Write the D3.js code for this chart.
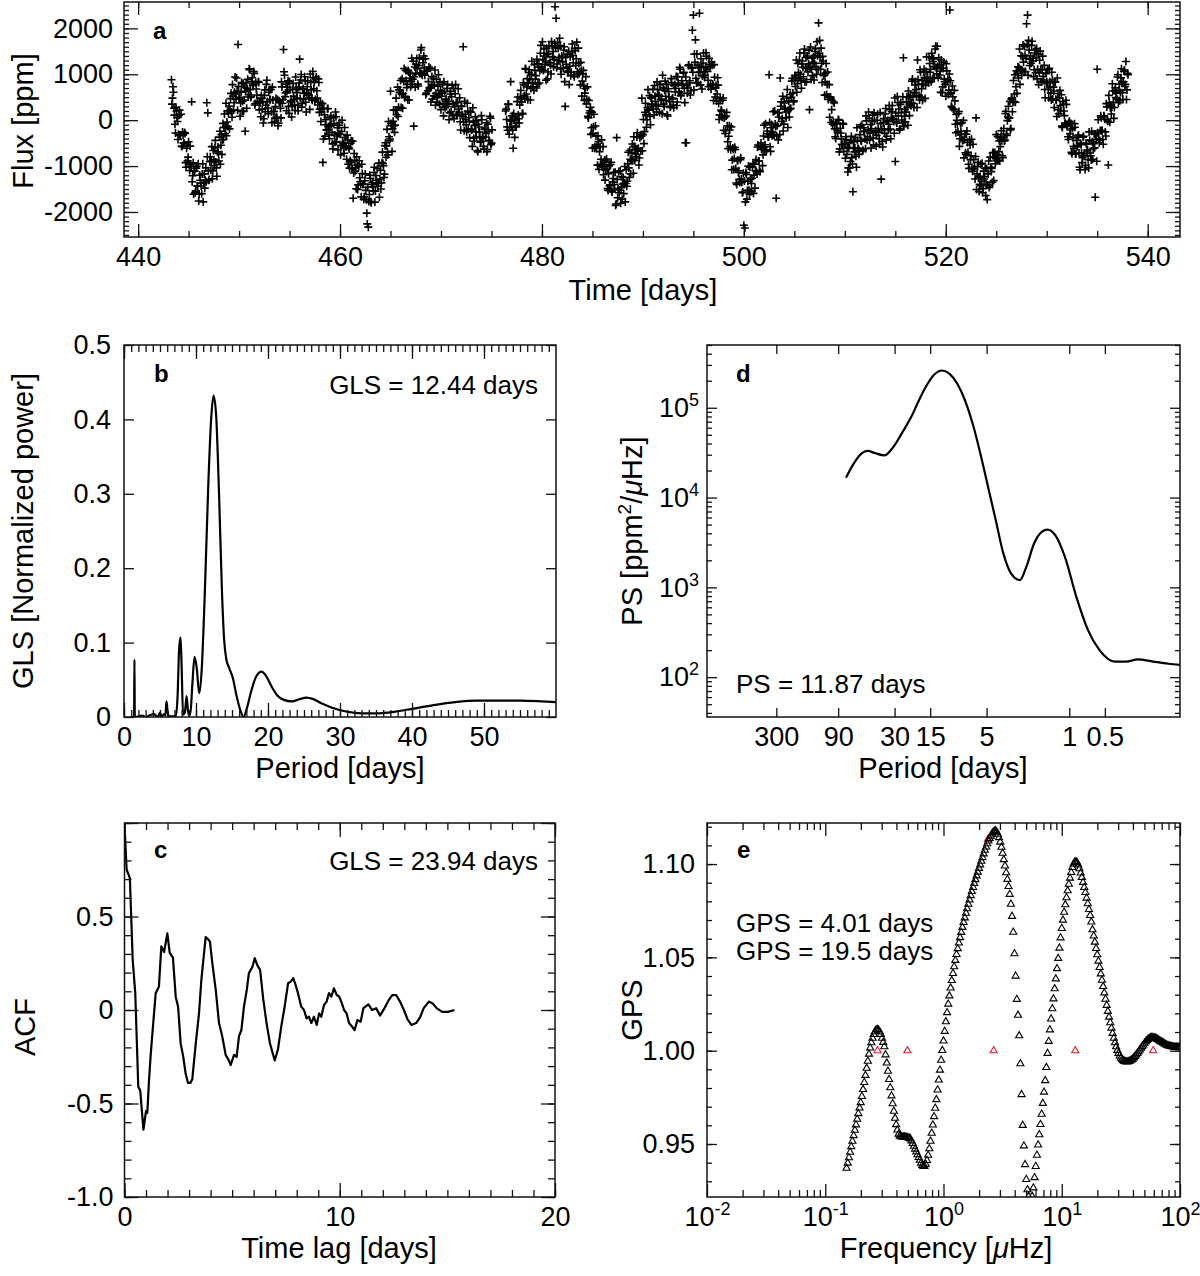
<!DOCTYPE html>
<html>
<head>
<meta charset="utf-8">
<title>Rotation period diagnostics</title>
<script src="https://cdn.jsdelivr.net/npm/d3@7"></script>
<style>
  body { margin: 0; background: #fff; }
  svg { display: block; }
</style>
</head>
<body>
<svg id="fig" width="1200" height="1276"></svg>
<script>
// ---- panel a: light curve, two segments; samples A on the cadence, B half a cadence later ----
var lcStart = [443.3, 476.4];
var lcStartB = [443.35, 476.45];
var lcCadence = 0.1; // days
var lcFlux1 = [
  880,480,610,110,-280,200,-30,-305,220,-330,
  -570,-260,-500,-270,-925,-610,-885,-470,-1095,-960,
  400,-1210,-1610,-1110,-1545,-1005,-1440,-1760,-1200,-1375,
  -1600,-950,-1370,-1480,-1040,380,160,-1310,-905,-1090,
  -575,-1100,-860,-600,-910,-1220,-585,-890,-240,-545,
  -745,-70,-155,-295,370,-40,-140,310,210,585,
  65,520,380,940,460,635,1650,460,85,610,
  190,800,440,-240,810,690,505,1120,665,520,
  925,780,1020,365,680,410,840,225,375,540,
  240,-60,540,185,780,405,140,665,450,185,
  720,190,-35,295,70,450,-65,395,260,835,
  370,1540,980,595,205,720,300,835,400,70,
  670,525,330,940,480,325,720,1330,875,285,
  670,460,945,390,600,860,545,235,820,465,
  1060,685,420,900,640,330,820,240,-30,250,
  -920,260,-350,10,-220,255,-315,-120,90,-265,
  -625,-80,-480,75,-345,-650,-110,-305,-555,0,
  -515,-720,-375,-580,-325,-960,-625,-880,-450,-1060,
  -1700,-725,-1110,-1495,-980,-1410,-885,-1335,-1670,-1160,
  -1390,-1670,-1170,-1735,-2260,-2330,-1620,-1265,-1800,-1360,
  -1540,-1025,-1545,-1310,-1050,-1365,-1680,-1090,-1365,-695,
  -990,-1175,-490,-560,-695,-30,-450,630,-120,-185,
  220,-265,220,120,720,280,600,865,565,260,
  845,490,1085,710,445,1050,915,730,1350,895,
  -130,1160,1020,1345,785,1190,1010,1530,1010,1250,
  1400,980,560,1070,640,1160,710,395,950,765,
  530,1095,585,390,740,555,835,230,590,365,
  835,270,460,690,350,10,570,190,760,360,
  35,575,380,130,685,170,-35,310,115,1600,
  -230,130,-100,370,-200,-20,175,-195,-570,-45,
  -460,75,-360,-660,-90,-260,-480,100,-390,-570,
  -200,-365,-55,-640,-250,-455,45,-500
];
var lcFlux1b = [
  350,730,260,-90,280,60,-420,105,-320,130,
  -570,-320,-500,-290,-1025,-540,-805,-970,-565,-1010,
  -1340,-930,-1110,-1580,-1045,-1435,-950,-1610,-1310,-1435,
  -1170,-1780,-1170,-1310,-1340,-795,-1100,-1290,-795,-890,
  -1275,-660,-990,-440,-1040,-690,-725,-370,-960,-315,
  -425,-420,135,-165,-340,200,150,-190,470,185,
  775,220,610,570,920,215,735,500,375,820,
  410,200,710,630,260,890,555,1100,495,840,
  755,1060,330,815,550,400,820,385,75,480,
  400,30,660,325,870,265,610,445,670,-55,
  440,190,45,475,50,-120,425,385,50,725,
  450,1055,510,785,625,860,150,665,430,300,
  800,445,210,700,600,205,810,470,995,365,
  690,580,855,180,730,560,495,1005,660,435,
  930,835,450,940,480,900,170,390,180,360,
  -410,120,-100,-210,250,-135,-405,50,-90,-515,
  55,-320,180,-465,-165,-290,-50,-755,-245,-480,
  -605,-160,-565,-850,-425,-590,-1045,-500,-920,-460,
  -1150,-875,-1030,-795,-1510,-1010,-1255,-1395,-960,-1400,
  -1720,-1320,-1530,-2025,-1460,-1770,-1200,-1775,-1400,-1450,
  -1140,-1785,-1205,-1380,-1440,-935,-1280,-1500,-925,-945,
  -1250,-555,-810,-200,-755,-360,-410,-70,-680,-25,
  -120,-105,480,220,80,660,650,275,905,580,
  1125,520,865,780,1085,440,1015,840,780,1285,
  945,720,1220,1125,745,1360,1030,1580,980,1330,
  1140,1340,590,1090,840,700,1130,735,460,905,
  760,325,885,500,990,345,645,520,780,95,
  625,410,300,780,410,160,630,510,100,690,
  295,775,110,390,245,490,-215,300,75,-45,
  410,20,-250,200,60,-380,175,-215,270,-395,
  -110,-255,-10,-690,-150,-360,-460,10,-370,-630,
  -170,-285,-685,-90,-440,85,-535,-210
];
var lcFlux2 = [
  200,15,-220,345,-160,840,-15,-220,145,-375,
  70,-65,505,30,330,650,400,135,770,465,
  1110,725,445,1040,890,690,1285,815,650,1085,
  970,1325,790,1230,1080,1630,1110,1320,1550,1210,
  870,1430,1050,1620,1255,1005,1620,1495,1325,2470,
  2220,1225,1570,1365,1625,1000,1360,1130,1600,300,
  1220,1430,1070,775,1380,1045,1660,1250,945,1515,
  1340,1055,1570,1015,770,1085,850,1085,430,690,
  355,725,50,155,280,-165,-605,-150,-610,-125,
  -610,-980,-465,-685,-960,-430,-965,-1190,-865,-1090,
  -845,-1490,-1165,-1430,-965,-1535,-1350,-1140,-1495,-1855,
  -380,-1690,-1120,-1520,-1810,-1230,-1390,-1600,-1010,-1380,
  -1440,-950,-1040,-660,-1170,-710,-885,-360,-875,-630,
  -365,-670,-975,-380,-670,480,-315,-510,170,115,
  10,665,215,80,490,350,675,115,520,330,
  835,305,530,780,460,140,700,300,850,430,
  120,685,505,280,905,465,330,750,615,950,
  395,810,610,1110,570,790,1025,695,-490,-490,
  590,1185,810,550,1155,1960,2290,1440,1750,810,
  1200,1040,2330,770,1160,965,1465,930,1150,1390,
  1060,730,1220,765,1265,790,430,935,705,420,
  925,365,110,430,195,435,-220,70,-230,170,
  -470,-350,-215,-645,-1080,-605,-1075,-590,-1050,-1400,
  -880,-1100,-1360,-820,-1350,-1565,-2290,-2350,-1140,-1720,
  -1330,-1525,-1025,-1560,-1265,-945,-1200,-1480,-855,-1175,
  -540,-890,-1125,-495,-600,-755,-110,-535,-650,-235,
  -365,990,-580,-165,-340,185,-330,-85,-1700,-120,
  -430,155,920,400,30,-235,375,240,55,670,
  215,70,560,500,910,400,865,735,1310,795,
  1040,1305,1000,695,1290,945,1550,1135,835,1400,
  1230,230,1595,1110,970,1375,1235,1560,1000,1405,
  2120,1740,1110,1240,1390,970,545,1025,560,1050,
  505,65,500,230,-90,395,-190,-400,-55,-265,
  0,-625,-280,-525,-70,-680,-530,-360,-745,-1130,
  -615,-1040,-440,-815,-1560,-470,-600,-785,-165,-620,
  -745,-315,-440,-100,-655,-240,-410,95,-435,-210,
  40,-285,-605,-30,-390,160,-255,-565,0,-180,
  -405,165,-1285,-465,-55,-190,135,-430,-25,-210,
  320,-195,55,320,20,-285,-900,-30,515,95,
  -220,345,165,-60,1360,85,-35,400,280,635,
  100,535,380,895,365,600,845,525,1310,780,
  440,1045,685,430,1050,925,755,1380,940,815,
  1235,1110,1455,910,1335,1170,1610,1010,1170,1360,
  985,610,1130,725,1265,840,520,1075,890,655,
  2400,595,275,510,230,420,-275,0,-255,190,
  -405,-240,-55,-435,-820,-300,-745,-235,-700,-1050,
  -540,-775,-1055,-525,-1055,-1280,50,-1170,-915,-1555,
  -1220,-1430,-940,-1490,-1280,-1050,-1390,-1730,-1170,-1465,
  -805,-1120,-1350,-705,-805,-950,-315,-750,-875,-450,
  -575,-230,-775,-350,-455,145,-300,-10,305,50,
  -210,460,185,865,570,390,1075,1025,920,1550,
  1105,975,1390,1265,1605,1060,2100,2290,1740,1190,
  1400,1630,1290,950,1465,1035,1560,1110,775,1305,
  1100,840,1395,875,670,1025,830,1105,490,835,
  590,1045,460,635,830,455,80,580,140,650,
  205,-130,405,200,-85,435,-120,-360,-55,-295,
  -70,-730,-380,-615,-155,-730,-550,-345,-715,-1080,
  -535,-925,-370,-778,-1075,-503,-670,-860,-255,-715,
  -870,-470,-620,-300,-1680,-415,1110,10,-490,-225,
  55,-230,-525,80,-255,360,5,-975,385,270,
  135,795,390,275,705,590,940,380,785,605,
  1120,600,835,1095,780,450,1020
];
var lcFlux2b = [
  240,-145,350,-305,-10,-155,95,-610,5,-125,
  -150,405,115,-60,500,470,150,815,530,1125,
  570,905,805,1100,440,1000,805,725,1210,895,
  700,1225,1160,810,1460,1160,1710,1080,1400,1290,
  1570,900,1450,1250,1195,1715,1380,1165,1675,1590,
  1145,1695,1300,1785,1115,1400,1270,1530,840,1370,
  1150,1040,1500,1175,970,1485,1410,990,1565,1195,
  1700,995,1240,1055,1260,525,1010,745,590,950,
  455,85,430,205,-310,175,-285,130,-580,-345,
  -540,-340,-1075,-585,-850,-1000,-575,-1000,-1305,-890,
  -1065,-1530,-995,-1410,-915,-1565,-1270,-1400,-1135,-1825,
  -1290,-1490,-1580,-1100,-1470,-1720,-1250,-1370,-1780,-1080,
  -1330,-700,-1250,-850,-880,-520,-1155,-570,-735,-790,
  -275,-610,-825,-320,-350,-665,15,-250,370,-155,
  270,225,535,-100,480,310,245,755,410,180,
  665,565,170,780,440,980,350,650,520,780,
  90,625,405,300,815,485,270,780,695,320,
  945,620,1150,530,860,758,1045,383,940,765,
  700,1205,860,640,1135,1045,660,1260,910,1440,
  820,1150,1050,1340,680,1245,1055,980,1470,1110,
  870,1350,1160,675,1195,760,1210,505,755,570,
  765,15,480,220,65,485,50,-290,90,-120,
  -620,-120,-575,-145,-870,-635,-835,-640,-1370,-880,
  -1140,-1290,-860,-1280,-1580,-1155,-1325,-1780,-1180,-1530,
  -1000,-1615,-1285,-1380,-1015,-1595,-960,-1100,-1125,-585,
  -890,-1090,-565,-635,-990,-345,-650,-75,-650,-295,
  -365,-50,-680,-95,-260,-315,200,-135,-345,160,
  70,-315,305,-30,520,-85,265,180,485,-160,
  415,240,260,850,590,420,975,935,610,1235,
  910,1465,870,1225,1150,1465,830,1365,1155,1050,
  1520,1145,885,1350,1260,875,1495,1160,1710,1105,
  1455,1370,1570,820,1290,1010,835,1235,780,450,
  775,505,-50,430,-40,375,-360,-80,-225,15,
  -690,-175,-410,-535,-90,-520,-830,-420,-585,-1040,
  -495,-900,-350,-955,-605,-690,-380,-1025,-445,-620,
  -665,-135,-460,-670,-165,-250,-620,-15,-355,180,
  -430,-95,-185,110,-540,-10,-225,-335,130,-260,
  -525,-75,-210,-585,35,-290,255,-350,-5,-90,
  230,-405,185,20,-30,485,155,-60,385,245,
  -190,385,5,510,-140,235,175,510,-110,495,
  350,315,850,505,275,770,665,275,885,540,
  1100,505,865,790,1110,475,1065,900,850,1375,
  1045,840,1355,1280,915,1550,1140,1610,930,1210,
  1065,1310,600,1125,895,780,1230,835,560,1005,
  860,305,745,240,650,-90,125,-90,145,-570,
  -65,-310,-445,-5,-420,-710,-305,-485,-960,-430,
  -860,-415,-1115,-855,-1015,-790,-1510,-1010,-1255,-1395,
  -960,-1330,-1580,-1110,-1230,-1640,-1050,-1410,-890,-1435,
  -1025,-1050,-710,-1315,-705,-840,-885,-360,-685,-890,
  -375,-450,-815,-180,-435,195,-330,70,45,410,
  -180,480,385,405,990,730,585,1165,1150,780,
  1405,1085,1640,1055,1415,1350,1650,980,1530,1330,
  1240,1720,1350,1100,1525,1355,900,1440,1035,1505,
  830,1100,955,1195,490,1015,790,675,1130,725,
  440,875,720,275,830,435,920,230,490,320,
  555,-160,345,100,-65,345,-100,-420,-25,-215,
  -700,-180,-570,-75,-735,-440,-580,-325,-1025,-500,
  -715,-815,-350,-728,-985,-523,-650,-1040,-435,-775,
  -240,-850,-510,-600,-300,-895,-275,-400,-440,95,
  -225,-420,95,20,-345,290,-25,540,-45,320,
  285,635,40,645,495,460,990,650,425,925,
  830,450,1065,735,1280,660,990
];
var timeTicks = [440, 460, 480, 500, 520, 540];
var fluxTicks = [-2000, -1000, 0, 1000, 2000];

// ---- panel b: GLS periodogram ----
var glsPeriod = [1.07,1.35,1.40,1.45,1.50,1.6,2.5,3.0,3.5,4.2,4.5,4.7,5.0,5.2,5.6,5.75,5.9,6.05,6.2,7.2,
  7.45,7.65,7.85,8.0,8.2,8.45,8.7,8.95,9.2,9.5,9.8,10.1,10.45,10.8,11.2,11.7,12.1,12.44,12.8,13.2,
  13.6,13.9,14.2,14.6,15.1,15.6,16.1,16.6,17.1,17.7,18.4,19.1,19.8,20.5,21.3,22.2,23.3,24.4,25.3,26.3,
  27.5,29.0,31.0,33.0,35.0,37.5,40.0,43.0,46.0,49.0,52.0,55.0,58.0,60.0];
var glsPower = [0,0,0,0.077,0,0,0.002,0,0.002,0.004,0.001,0,0.006,0.001,0.004,0.002,0.021,0.008,0.001,0.001,
  0.03,0.09,0.107,0.07,0.003,0.006,0.028,0.003,0.003,0.045,0.081,0.066,0.032,0.065,0.16,0.31,0.40,0.432,0.405,0.30,
  0.17,0.105,0.078,0.066,0.053,0.030,0.011,0,0.013,0.036,0.055,0.061,0.054,0.041,0.029,0.023,0.021,0.024,0.026,0.024,
  0.018,0.012,0.007,0.005,0.005,0.007,0.011,0.016,0.020,0.022,0.022,0.022,0.021,0.020];
var periodTicks = [0, 10, 20, 30, 40, 50];
var glsTicks = [0, 0.1, 0.2, 0.3, 0.4, 0.5];

// ---- panel c: autocorrelation ----
var acfLag = [0,0.1,0.25,0.38,0.5,0.64,0.73,0.88,1.0,1.06,1.14,1.21,1.3,1.45,1.6,1.71,1.84,1.99,2.1,2.25,
  2.38,2.49,2.61,2.73,2.84,2.95,3.06,3.15,3.31,3.46,3.57,3.77,3.87,3.97,4.08,4.24,4.39,4.54,4.7,4.85,
  4.93,5.09,5.21,5.32,5.43,5.55,5.68,5.78,5.94,6.05,6.17,6.3,6.45,6.6,6.76,6.98,7.13,7.28,7.44,7.6,
  7.72,7.84,7.95,8.06,8.21,8.34,8.46,8.57,8.68,8.8,8.93,9.04,9.14,9.27,9.39,9.5,9.61,9.73,9.86,9.97,
  10.07,10.2,10.32,10.43,10.58,10.69,10.82,10.97,11.1,11.33,11.5,11.69,11.87,12.08,12.26,12.44,12.62,12.8,12.98,13.15,
  13.33,13.55,13.73,13.9,14.14,14.32,14.5,14.76,15.03,15.33];
var acfValue = [0.99,0.75,0.705,0.27,0.09,-0.41,-0.43,-0.64,-0.54,-0.55,-0.375,-0.25,-0.12,0.09,0.125,0.34,0.31,0.41,0.305,0.28,
  0.07,0.018,-0.18,-0.25,-0.34,-0.39,-0.39,-0.37,-0.18,-0.02,0.16,0.39,0.38,0.365,0.25,0.107,-0.07,-0.14,-0.24,-0.27,
  -0.295,-0.24,-0.25,-0.14,-0.107,0.018,0.107,0.197,0.23,0.277,0.24,0.214,0.054,-0.07,-0.18,-0.27,-0.21,-0.09,0.018,0.143,
  0.152,0.17,0.134,0.09,0.018,0,-0.045,-0.036,-0.07,-0.036,-0.08,-0.018,-0.036,0.027,0.045,0.09,0.072,0.116,0.08,0.072,
  0.045,0,-0.018,-0.07,-0.09,-0.107,-0.054,-0.063,0.01,0.03,0,0.01,-0.03,0.01,0.05,0.08,0.08,0.045,0,-0.05,
  -0.08,-0.07,-0.04,0.01,0.045,0.035,0.01,-0.01,-0.01,0];
var lagTicks = [0, 10, 20];
var acfTicks = [-1, -0.5, 0, 0.5, 1];

// ---- panel d: power spectrum (frequency in microHz) ----
var psFreq = [0.150,0.174,0.202,0.229,0.262,0.316,0.367,0.459,0.533,0.619,0.719,0.836,0.971,1.127,1.309,1.521,
  1.766,2.051,2.382,2.767,3.206,3.724,4.426,5.023,5.834,6.776,7.586,8.810,10.62,13.27,16.63,20.80,28.05,35.08,
  43.95,59.29,79.98,100];
var psPower = [16670,23880,30830,33040,31330,29510,34990,55980,78700,120500,177000,234400,260000,238800,184900,120500,
  66370,30830,13150,5598,2388,1432,1205,1698,3083,4159,4406,3811,2193,787,336,201,149,149,
  158,149,141,137];
var psPeriodTicks = [300, 90, 30, 15, 5, 1, 0.5];
var psPowerTicks = [1e2, 1e3, 1e4, 1e5];

// ---- panel e: gradient power spectrum, log-spaced frequency grid ----
var gpsLogFreqStart = -0.82, gpsLogFreqStep = 0.01;
var gpsValue = [
  0.9370,0.9398,0.9427,0.9456,0.9486,0.9515,0.9545,0.9574,0.9603,0.9633,
  0.9663,0.9693,0.9722,0.9755,0.9792,0.9830,0.9868,0.9906,0.9944,0.9982,
  1.0015,1.0043,1.0067,1.0087,1.0102,1.0111,1.0114,1.0111,1.0102,1.0087,
  1.0067,1.0045,1.0021,0.9978,0.9934,0.9890,0.9846,0.9802,0.9758,0.9716,
  0.9676,0.9638,0.9604,0.9575,0.9553,0.9543,0.9539,0.9538,0.9538,0.9538,
  0.9537,0.9536,0.9534,0.9532,0.9528,0.9517,0.9503,0.9488,0.9473,0.9458,
  0.9443,0.9428,0.9413,0.9398,0.9386,0.9380,0.9382,0.9392,0.9412,0.9440,
  0.9475,0.9515,0.9558,0.9602,0.9647,0.9692,0.9738,0.9790,0.9843,0.9896,
  0.9949,1.0001,1.0052,1.0104,1.0155,1.0204,1.0250,1.0294,1.0336,1.0376,
  1.0414,1.0450,1.0484,1.0516,1.0547,1.0577,1.0606,1.0634,1.0661,1.0687,
  1.0712,1.0737,1.0761,1.0785,1.0808,1.0831,1.0853,1.0875,1.0896,1.0917,
  1.0937,1.0957,1.0977,1.0996,1.1015,1.1035,1.1055,1.1074,1.1092,1.1109,
  1.1124,1.1138,1.1150,1.1161,1.1170,1.1176,1.1178,1.1172,1.1160,1.1142,
  1.1118,1.1090,1.1058,1.1024,1.0990,1.0954,1.0918,1.0880,1.0838,1.0785,
  1.0720,1.0635,1.0520,1.0400,1.0275,1.0190,1.0080,0.9930,0.9765,0.9600,
  0.9490,0.9390,0.9310,0.9255,0.9220,0.9195,0.9180,0.9220,0.9265,0.9320,
  0.9380,0.9440,0.9495,0.9550,0.9605,0.9660,0.9718,0.9778,0.9840,0.9910,
  0.9986,1.0050,1.0112,1.0170,1.0225,1.0278,1.0332,1.0385,1.0440,1.0495,
  1.0550,1.0605,1.0655,1.0700,1.0742,1.0782,1.0820,1.0857,1.0892,1.0925,
  1.0955,1.0982,1.1000,1.1010,1.1013,1.1008,1.0995,1.0975,1.0952,1.0928,
  1.0902,1.0875,1.0848,1.0818,1.0788,1.0757,1.0725,1.0690,1.0648,1.0615,
  1.0582,1.0548,1.0514,1.0480,1.0446,1.0412,1.0378,1.0344,1.0310,1.0276,
  1.0243,1.0211,1.0180,1.0150,1.0121,1.0093,1.0067,1.0043,1.0021,1.0002,
  0.9986,0.9972,0.9961,0.9953,0.9947,0.9943,0.9941,0.9940,0.9941,0.9943,
  0.9946,0.9950,0.9955,0.9962,0.9970,0.9978,0.9986,0.9995,1.0004,1.0013,
  1.0022,1.0031,1.0040,1.0048,1.0055,1.0061,1.0066,1.0069,1.0071,1.0071,
  1.0070,1.0068,1.0065,1.0061,1.0057,1.0053,1.0049,1.0045,1.0041,1.0037,
  1.0033,1.0030,1.0027,1.0025,1.0023,1.0022,1.0021,1.0020,1.0019,1.0019,
  1.0018,1.0018,1.0018
];
var gpsMarkFreq = [0.277, 0.495, 2.38, 2.66, 13.0, 59.3];
var gpsMarkValue = [1.0, 1.0, 1.1134, 1.0, 1.0, 1.0];
var freqTicks = [0.01, 0.1, 1, 10, 100];
var gpsTicks = [0.95, 1.00, 1.05, 1.10];

// ------------------------------------------------------------------
var svg = d3.select("#fig");
var FONT = "'Liberation Sans', Arial, Helvetica, sans-serif";
var INK = "#111";
var DAY_UHZ = 1e6 / 86400; // 1/day in microHz

svg.append("rect").attr("width", 1200).attr("height", 1276).attr("fill", "#fff");

function ticks(g, scale, side, pos, values, len, fmt, pad) {
  var make = {bottom: d3.axisBottom, top: d3.axisTop, left: d3.axisLeft, right: d3.axisRight}[side];
  var ax = make(scale).tickValues(values).tickSizeInner(-len).tickSizeOuter(0)
    .tickPadding(pad == null ? 0 : pad).tickFormat(fmt || function() { return ""; });
  var horiz = side === "bottom" || side === "top";
  var a = g.append("g")
    .attr("transform", horiz ? "translate(0," + pos + ")" : "translate(" + pos + ",0)")
    .call(ax)
    .attr("font-family", FONT).attr("font-size", 27);
  a.select(".domain").remove();
  a.selectAll("line").attr("stroke", INK).attr("stroke-width", 1.3);
  a.selectAll("text").attr("fill", "#000");
  return a;
}

function clip(g, b, id) {
  g.append("clipPath").attr("id", id).append("rect")
    .attr("x", b.x0).attr("y", b.y0).attr("width", b.x1 - b.x0).attr("height", b.y1 - b.y0);
}

function frame(g, b) {
  g.append("rect").attr("x", b.x0).attr("y", b.y0)
    .attr("width", b.x1 - b.x0).attr("height", b.y1 - b.y0)
    .attr("fill", "none").attr("stroke", INK).attr("stroke-width", 1.5);
}

function label(g, x, y, str, size, anchor, bold) {
  return g.append("text").attr("x", x).attr("y", y)
    .attr("font-family", FONT).attr("font-size", size)
    .attr("font-weight", bold ? "bold" : null)
    .attr("text-anchor", anchor || "start").text(str);
}

function ytitle(g, x, y) {
  return g.append("text").attr("transform", "translate(" + x + "," + y + ") rotate(-90)")
    .attr("font-family", FONT).attr("font-size", 29).attr("text-anchor", "middle");
}

function powLabels(axisG) {
  axisG.selectAll(".tick text").each(function(d) {
    var e = Math.round(Math.log10(d));
    var t = d3.select(this).text(null);
    t.append("tspan").text("10");
    t.append("tspan").attr("dy", -11).attr("font-size", 18).text(e);
  });
}

function logMinor(lo, hi) {
  var out = [];
  for (var e = Math.floor(Math.log10(lo)); e < Math.log10(hi); e++) {
    for (var k = 2; k < 10; k++) {
      var v = k * Math.pow(10, e);
      if (v >= lo && v <= hi) out.push(v);
    }
  }
  return out;
}

function steps(a, b, s) {
  return d3.range(a, b + s / 2, s).map(function(v) { return +v.toFixed(6); });
}

function fmtTrim(d) { return d === 0 ? "0" : d.toFixed(1); }

// ---------------- panel a ----------------
var A = {x0: 124, x1: 1180, y0: 2, y1: 237};
var ga = svg.append("g");
clip(ga, A, "clipA");
var xa = d3.scaleLinear().domain([438.6, 543.2]).range([A.x0, A.x1]);
var ya = d3.scaleLinear().domain([-2545, 2575]).range([A.y1, A.y0]);

var lc = [];
[[lcStart[0], lcFlux1], [lcStartB[0], lcFlux1b], [lcStart[1], lcFlux2], [lcStartB[1], lcFlux2b]]
  .forEach(function(seg) {
    seg[1].forEach(function(f, i) { lc.push({t: seg[0] + i * lcCadence, f: f}); });
  });

ga.append("g").attr("clip-path", "url(#clipA)")
  .selectAll("path").data(lc).join("path")
  .attr("transform", function(d) { return "translate(" + xa(d.t) + "," + ya(d.f) + ")"; })
  .attr("d", "M-4,0H4M0,-4V4")
  .attr("fill", "none").attr("stroke", "#000").attr("stroke-width", 1.6);

ticks(ga, xa, "bottom", A.y1, steps(440, 540, 5), 6);
ticks(ga, xa, "bottom", A.y1, timeTicks, 13, function(d) { return d; }, 10);
ticks(ga, xa, "top", A.y0, steps(440, 540, 5), 6);
ticks(ga, xa, "top", A.y0, timeTicks, 13);
ticks(ga, ya, "left", A.x0, steps(-2500, 2500, 100), 5);
ticks(ga, ya, "left", A.x0, fluxTicks, 14, function(d) { return String(d); }, 11);
ticks(ga, ya, "right", A.x1, steps(-2500, 2500, 100), 5);
ticks(ga, ya, "right", A.x1, fluxTicks, 14);
frame(ga, A);

ytitle(ga, 33, 121).text("Flux [ppm]");
label(ga, 643, 300, "Time [days]", 29, "middle");
label(ga, 153, 39, "a", 24, "start", true);

// ---------------- panel b ----------------
var B = {x0: 124, x1: 556, y0: 345, y1: 717};
var gb = svg.append("g");
clip(gb, B, "clipB");
var xb = d3.scaleLinear().domain([0, 60]).range([B.x0, B.x1]);
var yb = d3.scaleLinear().domain([0, 0.5]).range([B.y1, B.y0]);

gb.append("path").datum(d3.zip(glsPeriod, glsPower))
  .attr("clip-path", "url(#clipB)")
  .attr("d", d3.line().x(function(d) { return xb(d[0]); }).y(function(d) { return yb(d[1]); })
    .curve(d3.curveMonotoneX))
  .attr("fill", "none").attr("stroke", "#000").attr("stroke-width", 2.2)
  .attr("stroke-linejoin", "round");

ticks(gb, xb, "bottom", B.y1, steps(0, 59, 1), 7);
ticks(gb, xb, "bottom", B.y1, periodTicks, 14, function(d) { return d; }, 10);
ticks(gb, xb, "top", B.y0, steps(0, 59, 1), 7);
ticks(gb, xb, "top", B.y0, periodTicks, 14);
ticks(gb, yb, "left", B.x0, glsTicks, 10, fmtTrim, 13);
ticks(gb, yb, "right", B.x1, glsTicks, 10);
frame(gb, B);

ytitle(gb, 33, 531).text("GLS [Normalized power]");
label(gb, 340, 778, "Period [days]", 29, "middle");
label(gb, 154, 382, "b", 24, "start", true);
label(gb, 538, 394, "GLS = 12.44 days", 26, "end");

// ---------------- panel d ----------------
var Dp = {x0: 707, x1: 1180, y0: 345, y1: 717};
var gd = svg.append("g");
clip(gd, Dp, "clipD");
var xd = d3.scaleLog().domain([0.01, 100]).range([Dp.x0, Dp.x1]);
var yd = d3.scaleLog().domain([36, 5e5]).range([Dp.y1, Dp.y0]);

gd.append("path").datum(d3.zip(psFreq, psPower))
  .attr("clip-path", "url(#clipD)")
  .attr("d", d3.line().x(function(d) { return xd(d[0]); }).y(function(d) { return yd(d[1]); })
    .curve(d3.curveMonotoneX))
  .attr("fill", "none").attr("stroke", "#000").attr("stroke-width", 2.2)
  .attr("stroke-linejoin", "round");

var psTickFreq = psPeriodTicks.map(function(p) { return DAY_UHZ / p; });
ticks(gd, xd, "bottom", Dp.y1, psTickFreq, 9, function(d, i) { return psPeriodTicks[i]; }, 10);
ticks(gd, xd, "top", Dp.y0, psTickFreq, 9);
ticks(gd, yd, "left", Dp.x0, logMinor(36, 5e5), 5);
powLabels(ticks(gd, yd, "left", Dp.x0, psPowerTicks, 10, function(d) { return d; }, 8));
ticks(gd, yd, "right", Dp.x1, logMinor(36, 5e5), 5);
ticks(gd, yd, "right", Dp.x1, psPowerTicks, 10);
frame(gd, Dp);

var td = ytitle(gd, 642, 531);
td.append("tspan").text("PS [ppm");
td.append("tspan").attr("dy", -11).attr("font-size", 19).text("2");
td.append("tspan").attr("dy", 11).text("/");
td.append("tspan").attr("font-style", "italic").text("\u03bc");
td.append("tspan").text("Hz]");
label(gd, 943, 778, "Period [days]", 29, "middle");
label(gd, 736, 382, "d", 24, "start", true);
label(gd, 736, 693, "PS = 11.87 days", 26, "start");

// ---------------- panel c ----------------
var C = {x0: 124.5, x1: 555, y0: 823, y1: 1197};
var gc = svg.append("g");
clip(gc, C, "clipC");
var xc = d3.scaleLinear().domain([0, 20]).range([C.x0, C.x1]);
var yc = d3.scaleLinear().domain([-1, 1]).range([C.y1, C.y0]);

gc.append("path").datum(d3.zip(acfLag, acfValue))
  .attr("clip-path", "url(#clipC)")
  .attr("d", d3.line().x(function(d) { return xc(d[0]); }).y(function(d) { return yc(d[1]); }))
  .attr("fill", "none").attr("stroke", "#000").attr("stroke-width", 2.2)
  .attr("stroke-linejoin", "round");

function acfFmt(d) {
  if (d === 1) return "";
  if (d === 0) return "0";
  return d.toFixed(1);
}
ticks(gc, xc, "bottom", C.y1, steps(0, 20, 1), 7);
ticks(gc, xc, "bottom", C.y1, lagTicks, 14, function(d) { return d; }, 10);
ticks(gc, xc, "top", C.y0, steps(0, 20, 1), 7);
ticks(gc, xc, "top", C.y0, lagTicks, 14);
ticks(gc, yc, "left", C.x0, steps(-1, 1, 0.1), 7);
ticks(gc, yc, "left", C.x0, acfTicks, 14, acfFmt, 11);
ticks(gc, yc, "right", C.x1, steps(-1, 1, 0.1), 7);
ticks(gc, yc, "right", C.x1, acfTicks, 14);
frame(gc, C);

ytitle(gc, 35, 1027).text("ACF");
label(gc, 339, 1258, "Time lag [days]", 29, "middle");
label(gc, 154, 858, "c", 24, "start", true);
label(gc, 538, 870, "GLS = 23.94 days", 26, "end");

// ---------------- panel e ----------------
var E = {x0: 707, x1: 1180, y0: 823, y1: 1197};
var ge = svg.append("g");
clip(ge, E, "clipE");
var xe = d3.scaleLog().domain([0.01, 100]).range([E.x0, E.x1]);
var ye = d3.scaleLinear().domain([0.9216, 1.122]).range([E.y1, E.y0]);

var tri = d3.symbol().type(d3.symbolTriangle).size(22);
var gpsPts = gpsValue.map(function(v, i) {
  return {f: Math.pow(10, gpsLogFreqStart + i * gpsLogFreqStep), v: v};
});
var marks = gpsMarkFreq.map(function(f, i) { return {f: f, v: gpsMarkValue[i]}; });

var plotE = ge.append("g").attr("clip-path", "url(#clipE)");
plotE.append("g").selectAll("path").data(marks).join("path")
  .attr("transform", function(d) { return "translate(" + xe(d.f) + "," + ye(d.v) + ")"; })
  .attr("d", tri).attr("fill", "none").attr("stroke", "#e8182a").attr("stroke-width", 1.1);
plotE.append("g").selectAll("path").data(gpsPts).join("path")
  .attr("transform", function(d) { return "translate(" + xe(d.f) + "," + ye(d.v) + ")"; })
  .attr("d", tri).attr("fill", "none").attr("stroke", "#000").attr("stroke-width", 1.1);

ticks(ge, xe, "bottom", E.y1, logMinor(0.01, 100), 7);
powLabels(ticks(ge, xe, "bottom", E.y1, freqTicks, 13, function(d) { return d; }, 10));
ticks(ge, xe, "top", E.y0, logMinor(0.01, 100), 7);
ticks(ge, xe, "top", E.y0, freqTicks, 13);
ticks(ge, ye, "left", E.x0, steps(0.93, 1.12, 0.01), 5);
ticks(ge, ye, "left", E.x0, gpsTicks, 10, function(d) { return d.toFixed(2); }, 12);
ticks(ge, ye, "right", E.x1, steps(0.93, 1.12, 0.01), 5);
ticks(ge, ye, "right", E.x1, gpsTicks, 10);
frame(ge, E);

ytitle(ge, 642, 1010).text("GPS");
var te = label(ge, 946, 1258, "", 29, "middle");
te.append("tspan").text("Frequency [");
te.append("tspan").attr("font-style", "italic").text("\u03bc");
te.append("tspan").text("Hz]");
label(ge, 737, 858, "e", 24, "start", true);
label(ge, 736, 932, "GPS = 4.01 days", 26, "start");
label(ge, 736, 960, "GPS = 19.5 days", 26, "start");
</script>
</body>
</html>
